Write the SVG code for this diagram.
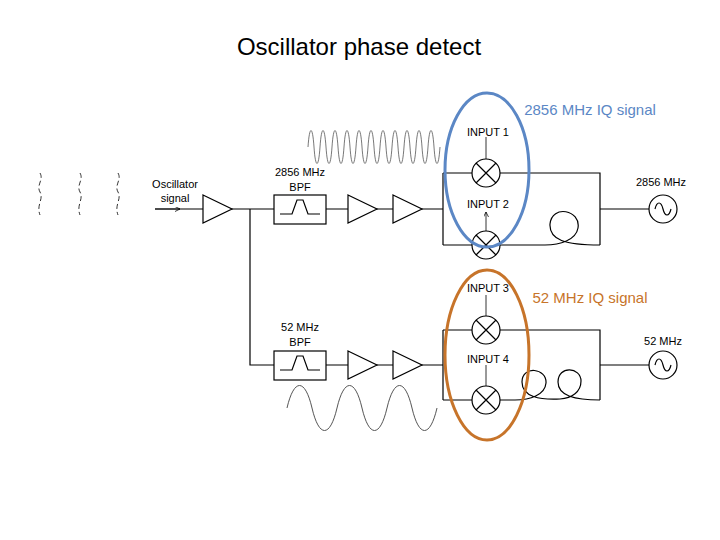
<svg xmlns="http://www.w3.org/2000/svg" width="720" height="540" viewBox="0 0 720 540">
<style>
.l{stroke:#000;stroke-width:1.2;fill:none}
.t{font-family:"Liberation Sans",Arial,sans-serif;font-size:11px;fill:#000}
.w{fill:#fff;stroke:#000;stroke-width:1.2}
</style>
<defs>
<marker id="a" viewBox="0 0 10 10" refX="10" refY="5" markerWidth="5" markerHeight="5" orient="auto" markerUnits="userSpaceOnUse"><path d="M0,0L10,5L0,10" fill="none" stroke="#000" stroke-width="1.5"/></marker>
<g id="mx"><circle r="14" class="w"/><path d="M-10,-10L10,10M10,-10L-10,10" class="l"/></g>
<g id="src"><circle r="14" class="w"/><path d="M-8,0C-6,-8 -2,-8 0,0S6,8 8,0" class="l"/></g>
<g id="amp"><path d="M0,-14L29,0L0,14Z" class="w"/></g>
<path id="bpf" d="M6,19H18L23,5H29L34,19H46" class="l"/>
</defs>
<text x="359" y="55" text-anchor="middle" font-family="Liberation Sans,Arial,sans-serif" font-size="24">Oscillator phase detect</text>
<g id="connectors">
<path d="M155,209H443M250,209V365H443M443,173V245M443,173H472M443,245H472M500,173H600V245M600,209H649M443,330V400M443,330H472M443,400H472M500,330H600V400M600,365H649" class="l"/>
<path d="M500,245H545C560,245 576,240 578,228C581,210 552,204 550,224C549,240 565,245 600,245" class="l"/>
<path d="M500,400H515C530,400 545,395 546,383C547,368 522,365 522,382C522,397 540,400 560,399C572,398 581,392 581,381C581,367 558,365 558,382C558,396 575,400 600,400" class="l"/>
<path d="M155,209H180" stroke="#000" stroke-width="0.8" marker-end="url(#a)"/>
<path d="M486,159V137M486,316V295M486,386V365M486,231V212" stroke="#000" stroke-width="0.8" marker-end="url(#a)"/>
</g>
<g id="amp1"><use href="#amp" x="203" y="209"/></g>
<g id="amp2"><use href="#amp" x="348" y="209"/></g>
<g id="amp3"><use href="#amp" x="393" y="209"/></g>
<g id="amp4"><use href="#amp" x="348" y="365"/></g>
<g id="amp5"><use href="#amp" x="393" y="365"/></g>
<g id="bpf1"><rect x="274" y="195" width="52" height="29" class="w"/><use href="#bpf" x="274" y="195"/>
<text x="300" y="176" text-anchor="middle" class="t">2856 MHz</text><text x="300" y="191" text-anchor="middle" class="t" font-size="12">BPF</text></g>
<g id="bpf2"><rect x="274" y="351" width="52" height="29" class="w"/><use href="#bpf" x="274" y="351"/>
<text x="300" y="331" text-anchor="middle" class="t">52 MHz</text><text x="300" y="346" text-anchor="middle" class="t" font-size="12">BPF</text></g>
<g id="mix1"><use href="#mx" x="486" y="173"/><text x="488" y="136" text-anchor="middle" class="t">INPUT 1</text></g>
<g id="mix2"><use href="#mx" x="486" y="245"/><text x="488" y="208" text-anchor="middle" class="t">INPUT 2</text></g>
<g id="mix3"><use href="#mx" x="486" y="330"/><text x="488" y="292" text-anchor="middle" class="t">INPUT 3</text></g>
<g id="mix4"><use href="#mx" x="486" y="400"/><text x="488" y="363" text-anchor="middle" class="t">INPUT 4</text></g>
<g id="src1"><use href="#src" x="663" y="209"/><text x="661" y="186" text-anchor="middle" class="t">2856 MHz</text></g>
<g id="src2"><use href="#src" x="663" y="365"/><text x="663" y="345" text-anchor="middle" class="t">52 MHz</text></g>
<g id="osc"><text x="175" y="188" text-anchor="middle" class="t">Oscillator</text><text x="175" y="202" text-anchor="middle" class="t">signal</text></g>
<path d="M40,173C44,180 36,185 40,192C44,199 36,205 40,215M80,173C84,180 76,185 80,192C84,199 76,205 80,215M118,173C122,180 114,185 118,192C122,199 114,205 118,215" stroke="#000" stroke-width="0.8" fill="none" stroke-dasharray="5,3"/>
<path d="M308,147c1.5,-22 4.5,-22 6,0s4.5,22 6,0c1.5,-22 4.5,-22 6,0s4.5,22 6,0c1.5,-22 4.5,-22 6,0s4.5,22 6,0c1.5,-22 4.5,-22 6,0s4.5,22 6,0c1.5,-22 4.5,-22 6,0s4.5,22 6,0c1.5,-22 4.5,-22 6,0s4.5,22 6,0c1.5,-22 4.5,-22 6,0s4.5,22 6,0c1.5,-22 4.5,-22 6,0s4.5,22 6,0c1.5,-22 4.5,-22 6,0s4.5,22 6,0c1.5,-22 4.5,-22 6,0s4.5,22 6,0c1.5,-22 4.5,-22 6,0s4.5,22 6,0" stroke="#555" stroke-width="0.8" fill="none"/>
<path d="M287,408c7,-30 18,-30 25,0s18,30 25,0c7,-30 18,-30 25,0s18,30 25,0c7,-30 18,-30 25,0s18,30 25,0" stroke="#555" stroke-width="1" fill="none"/>
<ellipse cx="487" cy="170" rx="42" ry="77" fill="none" stroke="#5b87c5" stroke-width="3"/>
<ellipse cx="487" cy="355" rx="42" ry="85" fill="none" stroke="#c7742a" stroke-width="3"/>
<text x="590" y="115" text-anchor="middle" font-family="Liberation Sans,Arial,sans-serif" font-size="15" fill="#5b87c5">2856 MHz IQ signal</text>
<text x="590" y="303" text-anchor="middle" font-family="Liberation Sans,Arial,sans-serif" font-size="15" fill="#c7742a">52 MHz IQ signal</text>
</svg>
